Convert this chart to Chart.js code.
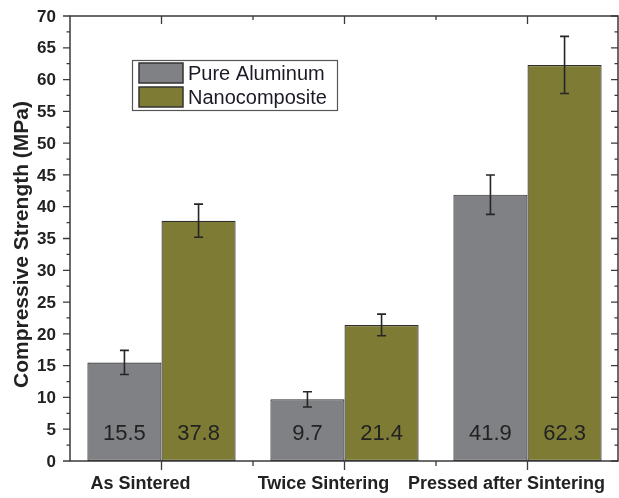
<!DOCTYPE html>
<html>
<head>
<meta charset="utf-8">
<script src="https://cdn.jsdelivr.net/npm/chart.js@4/dist/chart.umd.min.js"></script>
<style>
  html, body { margin: 0; padding: 0; background: #fff; }
  #wrap { width: 619px; height: 498px; }
</style>
</head>
<body>
<div id="wrap"><canvas id="c" width="619" height="498"></canvas></div>
<script>
// Compressive strength per processing route
const categories = ['As Sintered', 'Twice Sintering', 'Pressed after Sintering'];
const seriesNames = ['Pure Aluminum', 'Nanocomposite'];
const pureAluminum = [15.5, 9.7, 41.9];
const nanocomposite = [37.8, 21.4, 62.3];
const pureAluminumErr = [1.9, 1.2, 3.1];
const nanocompositeErr = [2.6, 1.7, 4.5];
const yTicks = [0, 5, 10, 15, 20, 25, 30, 35, 40, 45, 50, 55, 60, 65, 70];
const yTitle = 'Compressive Strength (MPa)';

const seriesColors = ['#808185', '#7e7c34'];
const errors = [pureAluminumErr, nanocompositeErr];
const axisColor = '#3a3a3a';

const decorations = {
  id: 'decorations',
  afterDatasetsDraw(chart) {
    const ctx = chart.ctx;
    const area = chart.chartArea;
    const xs = chart.scales.x;
    const ys = chart.scales.y;

    ctx.save();

    // error bars and value labels
    chart.data.datasets.forEach((ds, di) => {
      const meta = chart.getDatasetMeta(di);
      meta.data.forEach((bar, i) => {
        const v = ds.data[i];
        const e = errors[di][i];
        const x = bar.x;
        const yTop = ys.getPixelForValue(v + e);
        const yBot = ys.getPixelForValue(v - e);
        ctx.strokeStyle = '#262626';
        ctx.lineWidth = 1.6;
        ctx.beginPath();
        ctx.moveTo(x, yTop); ctx.lineTo(x, yBot);
        ctx.moveTo(x - 4.5, yTop); ctx.lineTo(x + 4.5, yTop);
        ctx.moveTo(x - 4.5, yBot); ctx.lineTo(x + 4.5, yBot);
        ctx.stroke();

        ctx.fillStyle = '#222';
        ctx.font = '22px "Liberation Sans", Arial, sans-serif';
        ctx.textAlign = 'center';
        ctx.textBaseline = 'middle';
        ctx.fillText(v.toFixed(1), x, ys.getPixelForValue(4.3));
      });
    });

    // frame
    ctx.strokeStyle = axisColor;
    ctx.lineWidth = 1.5;
    ctx.strokeRect(area.left, area.top, area.right - area.left - 1, area.bottom - area.top);

    // y ticks, left (outward) and right (inward)
    ctx.lineWidth = 1.3;
    const yMax = yTicks[yTicks.length - 1];
    for (let t = 0; t <= yMax; t += 2.5) {
      const y = ys.getPixelForValue(t);
      const major = t % 5 === 0;
      const len = major ? 7 : 3.5;
      ctx.beginPath();
      ctx.moveTo(area.left - len, y); ctx.lineTo(area.left, y);
      ctx.moveTo(area.right - 1, y); ctx.lineTo(area.right - 1 - len, y);
      ctx.stroke();
    }
    ctx.fillStyle = '#222';
    ctx.font = 'bold 17px "Liberation Sans", Arial, sans-serif';
    ctx.textAlign = 'right';
    ctx.textBaseline = 'middle';
    yTicks.forEach(t => ctx.fillText(String(t), area.left - 14, ys.getPixelForValue(t) + 1));

    // x ticks: major at category centres, minor between categories
    const step = xs.getPixelForValue(1) - xs.getPixelForValue(0);
    categories.forEach((c, i) => {
      const x = xs.getPixelForValue(i);
      ctx.beginPath();
      ctx.moveTo(x, area.bottom); ctx.lineTo(x, area.bottom + 9);
      ctx.moveTo(x, area.top); ctx.lineTo(x, area.top + 8);
      if (i < categories.length - 1) {
        const xm = x + step / 2;
        ctx.moveTo(xm, area.bottom); ctx.lineTo(xm, area.bottom + 5);
        ctx.moveTo(xm, area.top); ctx.lineTo(xm, area.top + 4);
      }
      ctx.stroke();
    });
    ctx.font = 'bold 18px "Liberation Sans", Arial, sans-serif';
    ctx.textAlign = 'center';
    ctx.textBaseline = 'middle';
    categories.forEach((c, i) => ctx.fillText(c, xs.getPixelForValue(i) - 21, area.bottom + 23));

    // y axis title
    ctx.save();
    ctx.translate(22, (area.top + area.bottom) / 2 + 6);
    ctx.rotate(-Math.PI / 2);
    ctx.font = 'bold 21px "Liberation Sans", Arial, sans-serif';
    ctx.fillText(yTitle, 0, 0);
    ctx.restore();

    // legend
    const lx = 132, ly = 60, lw = 205, lh = 50;
    ctx.fillStyle = '#fff';
    ctx.fillRect(lx, ly, lw, lh);
    ctx.strokeStyle = '#555';
    ctx.lineWidth = 1.2;
    ctx.strokeRect(lx + 0.5, ly + 0.5, lw, lh);
    seriesNames.forEach((name, i) => {
      const ry = ly + 3 + i * 24;
      ctx.fillStyle = seriesColors[i];
      ctx.fillRect(139, ry, 44, 20);
      ctx.strokeStyle = '#333';
      ctx.lineWidth = 1.5;
      ctx.strokeRect(139, ry, 44, 20);
      ctx.fillStyle = '#1b1b26';
      ctx.font = '20px "Liberation Sans", Arial, sans-serif';
      ctx.textAlign = 'left';
      ctx.textBaseline = 'middle';
      ctx.fillText(name, 188, ry + 11);
    });

    ctx.restore();
  }
};

new Chart(document.getElementById('c'), {
  type: 'bar',
  data: {
    labels: categories,
    datasets: [
      { label: seriesNames[0], data: pureAluminum, backgroundColor: seriesColors[0],
        borderColor: '#2e2e2e', borderWidth: 1.2, borderSkipped: false,
        categoryPercentage: 0.81, barPercentage: 1.0 },
      { label: seriesNames[1], data: nanocomposite, backgroundColor: seriesColors[1],
        borderColor: '#2e2e2e', borderWidth: 1.2, borderSkipped: false,
        categoryPercentage: 0.81, barPercentage: 1.0 }
    ]
  },
  options: {
    responsive: false,
    animation: false,
    layout: { padding: { left: 70, top: 16, right: 0, bottom: 37 } },
    plugins: { legend: { display: false }, tooltip: { enabled: false } },
    scales: {
      x: { display: false, offset: true },
      y: { display: false, min: 0, max: 70 }
    }
  },
  plugins: [decorations]
});
</script>
</body>
</html>
